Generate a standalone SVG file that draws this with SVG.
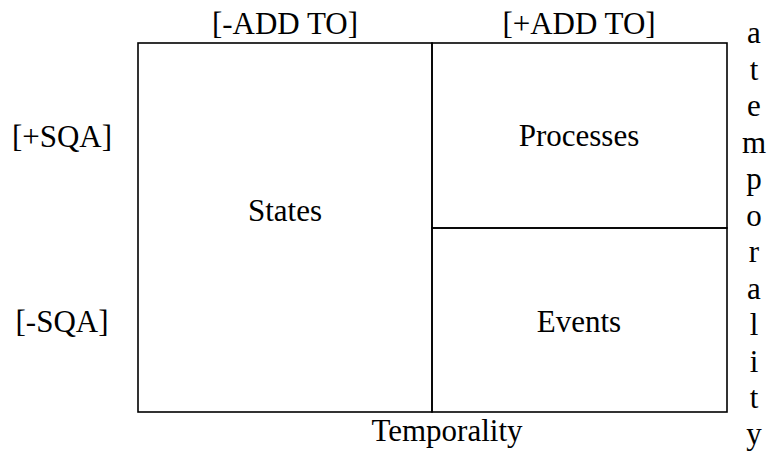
<svg xmlns="http://www.w3.org/2000/svg" width="774" height="451" viewBox="0 0 774 451">
  <style>
    .frame { fill: none; stroke: #000; stroke-width: 1.6; }
    .lbl { font-family: "Liberation Serif", "Times New Roman", serif; font-size: 31px; fill: #000; text-anchor: middle; }
  </style>
  <rect width="774" height="451" fill="#fff"/>

  <!-- cells of the classification grid -->
  <g id="states">
    <rect class="frame" x="138" y="43" width="294" height="369"/>
    <text class="lbl" x="285" y="221">States</text>
  </g>
  <g id="processes">
    <rect class="frame" x="432" y="43" width="295" height="185"/>
    <text class="lbl" x="579" y="146">Processes</text>
  </g>
  <g id="events">
    <rect class="frame" x="432" y="228" width="295" height="184"/>
    <text class="lbl" x="579" y="332">Events</text>
  </g>

  <!-- no connectors in this grid -->
  <g id="connectors"/>

  <!-- axis labels -->
  <g id="axis-labels">
    <text class="lbl" x="285" y="34">[-ADD TO]</text>
    <text class="lbl" x="579" y="34">[+ADD TO]</text>
    <text class="lbl" x="62" y="147">[+SQA]</text>
    <text class="lbl" x="62" y="332">[-SQA]</text>
    <text class="lbl" x="447" y="441">Temporality</text>
  </g>

  <!-- vertical label, one letter per line -->
  <g id="atemporality" class="lbl">
    <text x="754" y="43">a</text>
    <text x="754" y="80">t</text>
    <text x="754" y="116">e</text>
    <text x="754" y="153">m</text>
    <text x="754" y="189">p</text>
    <text x="754" y="226">o</text>
    <text x="754" y="262">r</text>
    <text x="754" y="299">a</text>
    <text x="754" y="335">l</text>
    <text x="754" y="372">i</text>
    <text x="754" y="408">t</text>
    <text x="754" y="444">y</text>
  </g>
</svg>
